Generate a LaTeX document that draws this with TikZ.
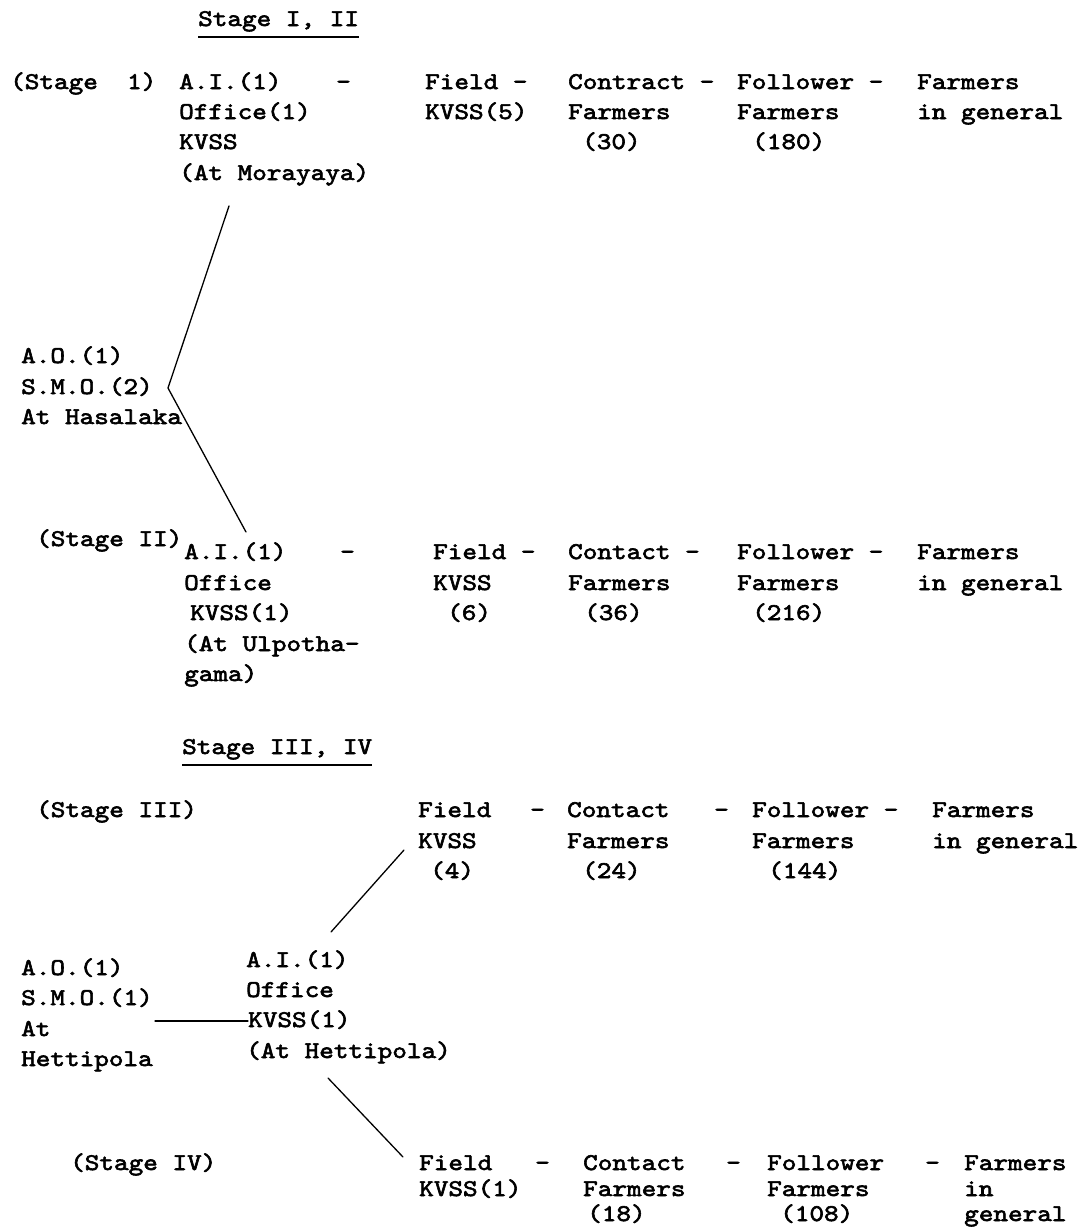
\documentclass[tikz,border=0pt]{standalone}
\usepackage{fontspec}
\newfontfamily\tw{lmmono10-regular}[Extension=.otf,FakeStretch=1.16,FakeBold=2.5]
\begin{document}
\begin{tikzpicture}[x=1pt,y=-1pt,
  txt/.style={anchor=base west,inner sep=0pt,font=\tw\fontsize{24}{29}\selectfont},
  conn/.style={line width=1.3pt,line cap=round},
  uline/.style={line width=1.1pt}]
\useasboundingbox[fill=white] (0,0) rectangle (1091,1227);

% ---------- Stage I, II ----------
\node[txt] (t1) at (198,26) {Stage I, II};
\draw[uline] ([yshift=-11pt]t1.base west) -- ([yshift=-11pt]t1.base east);

\node[txt] (s1) at (10,89) {(Stage\ \ 1)};
\node[txt] (ai1a) at (179,89) {A.I.(1)};
\node[txt] (ai1b) at (179,119) {Office(1)};
\node[txt] (ai1c) at (179,149) {KVSS};
\node[txt] (ai1d) at (179,180) {(At Morayaya)};
\node[txt] (d1) at (336,89) {-};
\node[txt] (fk1a) at (425,89) {Field -};
\node[txt] (fk1b) at (425,119) {KVSS(5)};
\node[txt] (cf1a) at (568,89) {Contract -};
\node[txt] (cf1b) at (568,119) {Farmers};
\node[txt] (cf1c) at (582,149) {(30)};
\node[txt] (ff1a) at (737,89) {Follower -};
\node[txt] (ff1b) at (737,119) {Farmers};
\node[txt] (ff1c) at (752,149) {(180)};
\node[txt] (fg1a) at (917,89) {Farmers};
\node[txt] (fg1b) at (917,119) {in general};

\node[txt] (ao1a) at (21,363) {A.O.(1)};
\node[txt] (ao1b) at (21,394) {S.M.O.(2)};
\node[txt] (ao1c) at (21,424) {At Hasalaka};

\coordinate (c1) at (229,206);
\coordinate (v1) at (168,388);
\coordinate (c2) at (246,532);
\draw[conn] (c1) -- (v1) -- (c2);

\node[txt] (s2) at (36,546) {(Stage II)};
\node[txt] (ai2a) at (184,559) {A.I.(1)};
\node[txt] (ai2b) at (184,590) {Office};
\node[txt] (ai2c) at (190,620) {KVSS(1)};
\node[txt] (ai2d) at (184,651) {(At Ulpotha-};
\node[txt] (ai2e) at (184,681) {gama)};
\node[txt] (d2) at (340,559) {-};
\node[txt] (fk2a) at (433,559) {Field -};
\node[txt] (fk2b) at (433,590) {KVSS};
\node[txt] (fk2c) at (447,620) {(6)};
\node[txt] (cf2a) at (568,559) {Contact -};
\node[txt] (cf2b) at (568,590) {Farmers};
\node[txt] (cf2c) at (584,620) {(36)};
\node[txt] (ff2a) at (737,559) {Follower -};
\node[txt] (ff2b) at (737,590) {Farmers};
\node[txt] (ff2c) at (752,620) {(216)};
\node[txt] (fg2a) at (917,559) {Farmers};
\node[txt] (fg2b) at (917,590) {in general};

% ---------- Stage III, IV ----------
\node[txt] (t2) at (182,754) {Stage III, IV};
\draw[uline] ([yshift=-11pt]t2.base west) -- ([yshift=-11pt]t2.base east);

\node[txt] (s3) at (36,817) {(Stage III)};
\node[txt] (fk3a) at (418,817) {Field};
\node[txt] (fk3d) at (530,817) {-};
\node[txt] (fk3b) at (418,848) {KVSS};
\node[txt] (fk3c) at (430,878) {(4)};
\node[txt] (cf3a) at (567,817) {Contact};
\node[txt] (cf3d) at (714,817) {-};
\node[txt] (cf3b) at (567,848) {Farmers};
\node[txt] (cf3c) at (582,878) {(24)};
\node[txt] (ff3a) at (752,817) {Follower -};
\node[txt] (ff3b) at (752,848) {Farmers};
\node[txt] (ff3c) at (768,878) {(144)};
\node[txt] (fg3a) at (932,817) {Farmers};
\node[txt] (fg3b) at (932,848) {in general};

\node[txt] (ao2a) at (21,975) {A.O.(1)};
\node[txt] (ao2b) at (21,1005) {S.M.O.(1)};
\node[txt] (ao2c) at (21,1036) {At};
\node[txt] (ao2d) at (21,1066) {Hettipola};

\node[txt] (ai3a) at (246,967) {A.I.(1)};
\node[txt] (ai3b) at (246,997) {Office};
\node[txt] (ai3c) at (248,1027) {KVSS(1)};
\node[txt] (ai3d) at (246,1058) {(At Hettipola)};

\coordinate (h1) at (155,1021);
\draw[conn] (h1) -- ([yshift=6pt]ai3c.base west);
\coordinate (u1) at (331,932);
\coordinate (u2) at (404,850);
\draw[conn] (u1) -- (u2);
\coordinate (w1) at (328,1078);
\coordinate (w2) at (403,1157);
\draw[conn] (w1) -- (w2);

\node[txt] (s4) at (70,1170) {(Stage IV)};
\node[txt] (fk4a) at (419,1170) {Field};
\node[txt] (fk4d) at (535,1170) {-};
\node[txt] (fk4b) at (419,1196) {KVSS(1)};
\node[txt] (cf4a) at (583,1170) {Contact};
\node[txt] (cf4d) at (726,1170) {-};
\node[txt] (cf4b) at (583,1196) {Farmers};
\node[txt] (cf4c) at (587,1221) {(18)};
\node[txt] (ff4a) at (767,1170) {Follower};
\node[txt] (ff4d) at (925,1170) {-};
\node[txt] (ff4b) at (767,1196) {Farmers};
\node[txt] (ff4c) at (780,1221) {(108)};
\node[txt] (fg4a) at (964,1170) {Farmers};
\node[txt] (fg4b) at (964,1196) {in};
\node[txt] (fg4c) at (964,1221) {general};
\end{tikzpicture}
\end{document}
